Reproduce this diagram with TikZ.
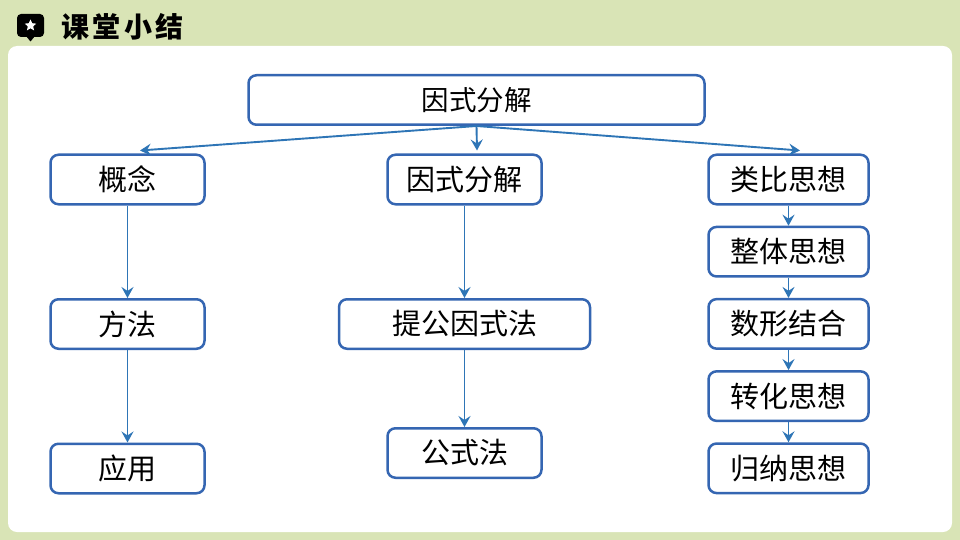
\documentclass[tikz,border=0pt]{standalone}
\usepackage{fontspec}
\newfontfamily\cjk{Noto Sans CJK SC}
\usetikzlibrary{shapes,calc,positioning,arrows.meta}
\definecolor{pagegreen}{HTML}{D9E4B6}
\definecolor{boxblue}{HTML}{3566B2}
\definecolor{linkblue}{HTML}{2E75B6}
\tikzset{
    topic/.style={draw=boxblue,line width=2.5pt,fill=white,rounded corners=8pt,inner sep=0pt,
        minimum height=49.5pt,text=black,font=\cjk\fontsize{29}{30}\selectfont},
    link/.style={-{Stealth[length=11pt,width=12pt,inset=4pt]},draw=linkblue,line width=1.9pt}
}
\begin{document}
\begin{tikzpicture}[x=1pt,y=1pt,node distance=72.2pt]
    \useasboundingbox (0,0) rectangle (960,-540);
    \fill[pagegreen] (0,0) rectangle (960,-540);
    \fill[white,rounded corners=9pt] (8,-46) rectangle (952,-532);
    % heading
    \fill[black,rounded corners=4pt] (17,-14) rectangle (44,-37);
    \fill[black] (26,-36) -- (30.5,-41.5) -- (35,-36) -- cycle;
    \node[star,star points=5,star point ratio=2.1,fill=white,inner sep=0pt,minimum size=12pt] (badge) at (30.5,-25.5) {};
    \node[anchor=west,inner sep=0pt,font=\cjk\bfseries\fontsize{28}{30}\addfontfeature{LetterSpace=12.5}\selectfont] (heading) at (61,-27) {课堂小结};
    %
    \node[topic,minimum width=456pt,font=\cjk\fontsize{27.5}{30}\selectfont] (root) at (476.5,-100) {因式分解};
    \node[topic,minimum width=154pt] (gainian) at (127.5,-179.5) {概念};
    \node[topic,minimum width=154pt,below of=gainian,node distance=144.5pt] (fangfa) {方法};
    \node[topic,minimum width=154pt,below of=fangfa,node distance=144.5pt] (yingyong) {应用};
    \node[topic,minimum width=154pt] (yinshi) at (464.5,-179.5) {因式分解};
    \node[topic,minimum width=251pt,below of=yinshi,node distance=144.5pt] (tigong) {提公因式法};
    \node[topic,minimum width=154pt,below of=tigong,node distance=129pt] (gongshi) {公式法};
    \node[topic,minimum width=160pt] (leibi) at (788.5,-179.5) {类比思想};
    \node[topic,minimum width=160pt,below of=leibi] (zhengti) {整体思想};
    \node[topic,minimum width=160pt,below of=zhengti] (shuxing) {数形结合};
    \node[topic,minimum width=160pt,below of=shuxing] (zhuanhua) {转化思想};
    \node[topic,minimum width=160pt,below of=zhuanhua] (guina) {归纳思想};
    \coordinate (left_end) at (140,-150.5);
    \coordinate (mid_end) at (477,-150.5);
    \coordinate (right_end) at (800,-150.5);
    %
    \draw[link] (root.south) -- (left_end);
    \draw[link] (root.south) -- (mid_end);
    \draw[link] (root.south) -- (right_end);
    \draw[link] (gainian) -- (fangfa);
    \draw[link] (fangfa) -- (yingyong);
    \draw[link] (yinshi) -- (tigong);
    \draw[link] (tigong) -- (gongshi);
    \draw[link] (leibi) -- (zhengti);
    \draw[link] (zhengti) -- (shuxing);
    \draw[link] (shuxing) -- (zhuanhua);
    \draw[link] (zhuanhua) -- (guina);
\end{tikzpicture}
\end{document}
